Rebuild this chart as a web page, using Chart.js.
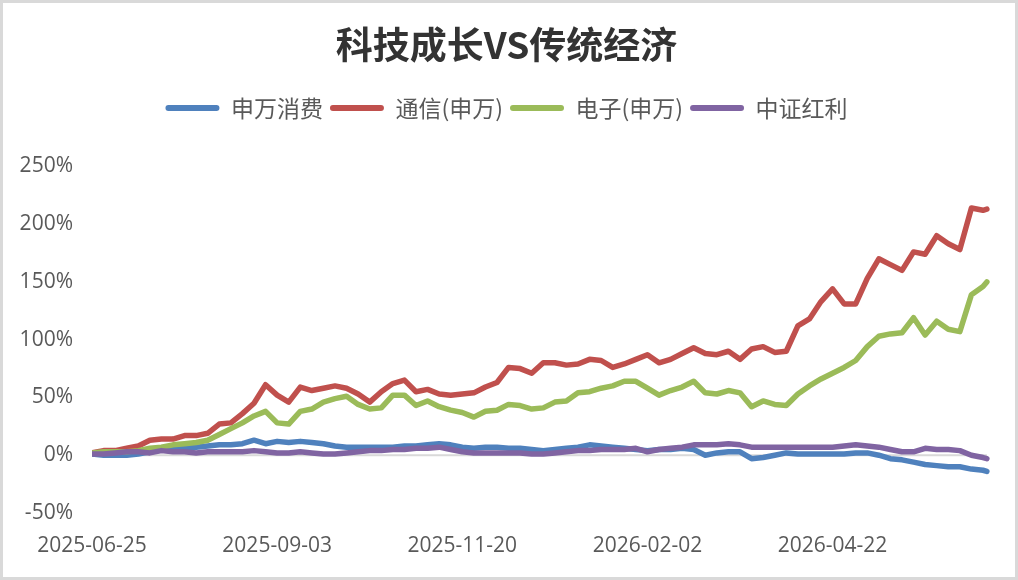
<!DOCTYPE html>
<html lang="zh">
<head>
<meta charset="utf-8">
<title>科技成长VS传统经济</title>
<script src="https://cdn.jsdelivr.net/npm/chart.js@4.4.1/dist/chart.umd.min.js"></script>
<style>
  html, body { margin: 0; padding: 0; background: #fff; }
  .frame { width: 1018px; height: 580px; box-sizing: border-box; border: 3px solid #d9d9d9; background: #fff; }
  .plot { position: relative; width: 1012px; height: 574px; }
</style>
</head>
<body>
<div class="frame"><div class="plot"><canvas id="chart"></canvas></div></div>
<script>
// ── Data (cumulative return, %) ─────────────────────────────
// trading-day index of each sampled point, counted from 2025-06-25
const dayIdx = [0, 3, 6, 9, 12, 15, 18, 21, 24, 27, 30, 33, 36, 39, 42, 45, 48, 51, 54, 57,
  60, 63, 66, 69, 72, 75, 78, 81, 84, 87, 90, 93, 96, 99, 102, 105, 108, 111, 114, 117,
  120, 123, 126, 129, 132, 135, 138, 141, 144, 147, 150, 153, 156, 159, 162, 165, 168, 171, 174, 177,
  180, 183, 186, 189, 192, 195, 198, 201, 204, 207, 210, 213, 216, 219, 222, 225, 228, 231, 232];

const tickIdx = [0, 48, 96, 144, 192];
const tickLabels = ["2025-06-25", "2025-09-03", "2025-11-20", "2026-02-02", "2026-04-22"];

const consumer = [1, 0, 0, 0, 1, 3, 5, 6, 6, 7,
  8, 9, 9, 10, 13, 10, 12, 11, 12, 11,
  10, 8, 7, 7, 7, 7, 7, 8, 8, 9,
  10, 9, 7, 6, 7, 7, 6, 6, 5, 4,
  5, 6, 7, 9, 8, 7, 6, 5, 4, 5,
  5, 6, 5, 0, 2, 3, 3, -3, -2, 0,
  2, 1, 1, 1, 1, 1, 2, 2, 0, -3,
  -4, -6, -8, -9, -10, -10, -12, -13, -14];

const telecom = [2, 4, 4, 6, 8, 13, 14, 14, 17, 17,
  19, 27, 28, 36, 45, 61, 52, 46, 59, 56,
  58, 60, 58, 53, 46, 55, 62, 65, 55, 57,
  53, 52, 53, 54, 59, 63, 76, 75, 71, 80,
  80, 78, 79, 83, 82, 76, 79, 83, 87, 80,
  83, 88, 93, 88, 87, 90, 83, 92, 94, 89,
  90, 112, 118, 133, 144, 131, 131, 153, 170, 165,
  160, 176, 174, 190, 183, 178, 214, 212, 213];

const electronics = [2, 3, 3, 3, 4, 6, 7, 9, 10, 11,
  13, 18, 23, 28, 34, 38, 28, 27, 38, 40,
  46, 49, 51, 44, 40, 41, 52, 52, 43, 47,
  42, 39, 37, 33, 38, 39, 44, 43, 40, 41,
  46, 47, 54, 55, 58, 60, 64, 64, 58, 52,
  56, 59, 64, 54, 53, 56, 54, 42, 47, 44,
  43, 53, 60, 66, 71, 76, 82, 94, 103, 105,
  106, 119, 104, 116, 109, 107, 139, 146, 150];

const dividend = [1, 1, 2, 3, 3, 2, 4, 3, 3, 2,
  3, 3, 3, 3, 4, 3, 2, 2, 3, 2,
  1, 1, 2, 3, 4, 4, 5, 5, 6, 6,
  7, 5, 3, 2, 2, 2, 2, 2, 1, 1,
  2, 3, 4, 4, 5, 5, 5, 6, 3, 5,
  6, 7, 9, 9, 9, 10, 9, 7, 7, 7,
  7, 7, 7, 7, 7, 8, 9, 8, 7, 5,
  3, 3, 6, 5, 5, 4, 0, -2, -3];

const seriesNames = ["申万消费", "通信(申万)", "电子(申万)", "中证红利"];
const seriesValues = [consumer, telecom, electronics, dividend];
const seriesColors = ["#4f81bd", "#c0504d", "#9bbb59", "#8064a2"];
// later series are painted on top, like the spreadsheet original
const drawOrder = [3, 2, 1, 0];

const CJK = "'Noto Sans CJK SC', 'Noto Sans', sans-serif";
const LATIN = "'Open Sans', 'Noto Sans', sans-serif";
const TEXT_GREY = "#595959";

// ── Extra room under the legend ─────────────────────────────
const legendGap = {
  id: "legendGap",
  beforeInit(chart) {
    const fitLegend = chart.legend.fit;
    chart.legend.fit = function () {
      fitLegend.call(this);
      this.height += 37;
    };
  }
};

// ── 0% axis line, only as long as the series ────────────────
const zeroLine = {
  id: "zeroLine",
  beforeDatasetsDraw(chart) {
    const { ctx, scales: { x, y } } = chart;
    const yPix = y.getPixelForValue(0);
    ctx.save();
    ctx.strokeStyle = "#d9d9d9";
    ctx.lineWidth = 2;
    ctx.beginPath();
    ctx.moveTo(x.getPixelForValue(dayIdx[0]), yPix);
    ctx.lineTo(x.getPixelForValue(dayIdx[dayIdx.length - 1]), yPix);
    ctx.stroke();
    ctx.restore();
  }
};

const datasets = seriesNames.map((name, s) => ({
  label: name,
  data: dayIdx.map((d, i) => ({ x: d, y: seriesValues[s][i] })),
  borderColor: seriesColors[s],
  backgroundColor: seriesColors[s],
  borderWidth: 5.5,
  borderCapStyle: "round",
  borderJoinStyle: "round",
  pointRadius: 0,
  tension: 0,
  order: drawOrder[s]
}));

new Chart(document.getElementById("chart"), {
  type: "line",
  data: { datasets },
  plugins: [legendGap, zeroLine],
  options: {
    responsive: true,
    maintainAspectRatio: false,
    animation: false,
    layout: { padding: { top: 0, right: 5, bottom: 0, left: 0 } },
    plugins: {
      tooltip: { enabled: false },
      title: {
        display: true,
        text: "科技成长VS传统经济",
        color: "#333333",
        font: { family: CJK, size: 37, weight: "bold" },
        padding: { top: 20, bottom: 22 }
      },
      legend: {
        display: true,
        position: "top",
        labels: {
          color: TEXT_GREY,
          font: { family: CJK, size: 23 },
          boxWidth: 54,
          boxHeight: 6,
          padding: 7,
          useBorderRadius: true,
          borderRadius: 3,
          generateLabels: (chart) => chart.data.datasets.map((ds, i) => ({
            text: ds.label,
            fillStyle: ds.borderColor,
            strokeStyle: ds.borderColor,
            lineWidth: 0,
            borderRadius: 3,
            fontColor: TEXT_GREY,
            hidden: false,
            datasetIndex: i
          }))
        }
      }
    },
    scales: {
      x: {
        type: "linear",
        min: 0,
        max: 238,
        grid: { display: false, drawTicks: false },
        border: { display: false },
        afterBuildTicks: (scale) => { scale.ticks = tickIdx.map((v) => ({ value: v })); },
        afterFit: (scale) => { scale.height = 64; },
        ticks: {
          autoSkip: false,
          maxRotation: 0,
          padding: 20,
          color: TEXT_GREY,
          font: { family: LATIN, size: 21 },
          callback: (v) => tickLabels[tickIdx.indexOf(v)]
        }
      },
      y: {
        min: -50,
        max: 250,
        grid: { display: false, drawTicks: false },
        border: { display: false },
        afterFit: (scale) => { scale.width = 89; },
        ticks: {
          stepSize: 50,
          padding: 19,
          color: TEXT_GREY,
          font: { family: LATIN, size: 21 },
          callback: (v) => v + "%"
        }
      }
    }
  }
});
</script>
</body>
</html>
